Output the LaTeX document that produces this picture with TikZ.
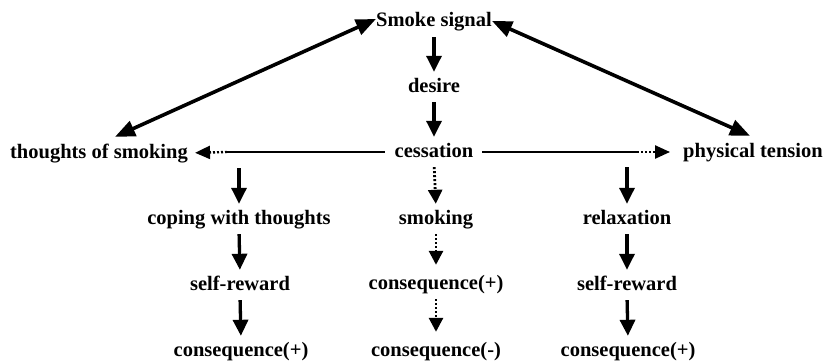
\documentclass[tikz,border=0pt]{standalone}
\usepackage{fontspec}
\setmainfont{Liberation Serif}
\usetikzlibrary{arrows.meta}
\begin{document}
\begin{tikzpicture}[x=1pt,y=-1pt,
  lbl/.style={font=\bfseries\fontsize{20.5}{24}\selectfont, inner sep=0pt,
              text height=15pt, text depth=5pt, anchor=base},
  flow/.style={line width=3.3pt, -{Triangle[length=16pt,width=15pt]},
               shorten <=5pt, shorten >=5pt},
  dflow/.style={line width=2.8pt, dash pattern=on 2pt off 2pt,
                -{Triangle[length=14pt,width=14pt]}, shorten <=5pt, shorten >=5pt},
  both/.style={line width=3.6pt,
               {Triangle[length=20pt,width=16pt]}-{Triangle[length=20pt,width=16pt]}},
  hline/.style={line width=2.2pt},
  hdot/.style={line width=2.4pt, dash pattern=on 2pt off 2pt,
               -{Triangle[length=15pt,width=13pt]}}
]
\useasboundingbox (0,0) rectangle (830,364);

% top of the chain
\node[lbl] (smoke) at (434,27) {Smoke signal};
\node[lbl] (desire) at (434,92) {desire};
\node[lbl] (cess) at (434,157) {cessation};
\node[lbl] (thoughts) at (99,158) {thoughts of smoking};
\node[lbl] (phys) at (753,157) {physical tension};

% left branch
\node[lbl] (coping) at (239,224) {coping with thoughts};
\node[lbl] (selfL) at (240,290) {self-reward};
\node[lbl] (consL) at (241,356) {consequence(+)};

% middle branch
\node[lbl] (smoking) at (436,224) {smoking};
\node[lbl] (consMp) at (436,289) {consequence(+)};
\node[lbl] (consMm) at (436,356) {consequence(-)};

% right branch
\node[lbl] (relax) at (627,224) {relaxation};
\node[lbl] (selfR) at (627,290) {self-reward};
\node[lbl] (consR) at (628,356) {consequence(+)};

% main chain
\draw[flow] (smoke.south -| desire.north) -- (desire.north);
\draw[flow] (desire.south) -- (cess.north);

% two-way links from the signal
\draw[both] ([yshift=3pt]smoke.west) -- ([xshift=16pt,yshift=6pt]thoughts.north);
\draw[both] ([yshift=1pt]smoke.east) -- ([xshift=-3pt,yshift=6pt]phys.north);

% horizontal links from cessation
\coordinate (lmid) at (227,152);
\coordinate (rmid) at (637,152);
\draw[hline, shorten <=10pt] (cess.west) -- (lmid);
\draw[hdot, shorten >=7pt] (lmid) -- (thoughts.east);
\draw[hline, shorten <=9pt] (cess.east) -- (rmid);
\draw[hdot, shorten >=13pt] (rmid) -- (phys.west);

% left branch arrows
\draw[flow] (coping.north |- thoughts.south) -- (coping.north);
\draw[flow] (coping.south) -- (selfL.north);
\draw[flow] (selfL.south) -- (consL.north);

% middle branch arrows
\draw[dflow] (cess.south) -- (smoking.north);
\draw[dflow, shorten >=9pt] (smoking.south) -- (consMp.north);
\draw[dflow, shorten >=9pt] (consMp.south) -- (consMm.north);

% right branch arrows
\draw[flow] (relax.north |- phys.south) -- (relax.north);
\draw[flow] (relax.south) -- (selfR.north);
\draw[flow] (selfR.south) -- (consR.north);
\end{tikzpicture}
\end{document}
